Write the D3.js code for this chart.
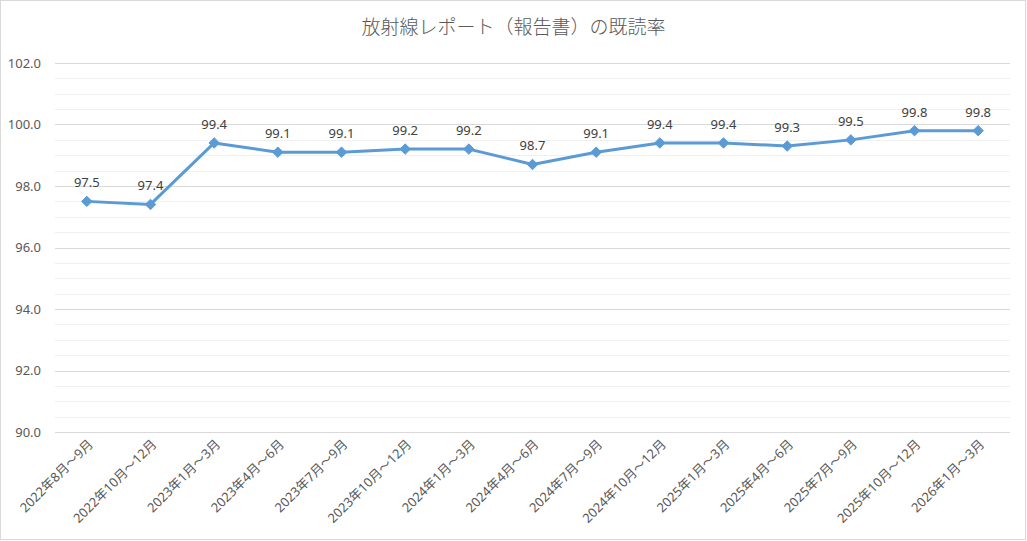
<!DOCTYPE html>
<html>
<head>
<meta charset="utf-8">
<script src="https://cdn.jsdelivr.net/npm/d3@7/dist/d3.min.js"></script>
<style>
body { margin: 0; background: #fff; }
svg { font-family: "Noto Sans", "Noto Sans CJK JP", sans-serif; }
</style>
</head>
<body>
<div id="chart"></div>
<script>
var categories = ["2022年8月～9月", "2022年10月～12月", "2023年1月～3月", "2023年4月～6月",
  "2023年7月～9月", "2023年10月～12月", "2024年1月～3月", "2024年4月～6月", "2024年7月～9月",
  "2024年10月～12月", "2025年1月～3月", "2025年4月～6月", "2025年7月～9月", "2025年10月～12月",
  "2026年1月～3月"];
var values = [97.5, 97.4, 99.4, 99.1, 99.1, 99.2, 99.2, 98.7, 99.1, 99.4, 99.4, 99.3, 99.5, 99.8, 99.8];
var majorTicks = [90, 92, 94, 96, 98, 100, 102];
var minorTicks = d3.range(90, 102.01, 0.5);
var title = "放射線レポート（報告書）の既読率";

var width = 1027, height = 541;
var margin = {left: 55, right: 17, top: 63, bottom: 109};

var svg = d3.select("#chart").append("svg")
  .attr("width", width)
  .attr("height", height);

// outer frame
svg.append("rect")
  .attr("x", 0.5).attr("y", 0.5)
  .attr("width", width - 2).attr("height", height - 2)
  .attr("fill", "#fff")
  .attr("stroke", "#d9d9d9");

var x = d3.scaleBand()
  .domain(categories)
  .range([margin.left, width - margin.right]);

var y = d3.scaleLinear()
  .domain([90, 102])
  .range([height - margin.bottom, margin.top]);

// minor gridlines
svg.append("g").selectAll("line")
  .data(minorTicks)
  .enter().append("line")
  .attr("x1", margin.left).attr("x2", width - margin.right)
  .attr("y1", function(d) { return Math.round(y(d)) + 0.5; })
  .attr("y2", function(d) { return Math.round(y(d)) + 0.5; })
  .attr("stroke", "#f0f0f0")
  .attr("stroke-width", 1);

// major gridlines
svg.append("g").selectAll("line")
  .data(majorTicks)
  .enter().append("line")
  .attr("x1", margin.left).attr("x2", width - margin.right)
  .attr("y1", function(d) { return Math.round(y(d)) + 0.5; })
  .attr("y2", function(d) { return Math.round(y(d)) + 0.5; })
  .attr("stroke", "#d9d9d9")
  .attr("stroke-width", 1);

// y axis labels
var yAxis = d3.axisLeft(y).tickValues(majorTicks).tickFormat(d3.format(".1f")).tickSize(0).tickPadding(14);
var gy = svg.append("g")
  .attr("transform", "translate(" + margin.left + ",0)")
  .call(yAxis);
gy.select(".domain").remove();
gy.selectAll("text")
  .attr("fill", "#595959")
  .style("font-family", "'Noto Sans', sans-serif")
  .style("font-size", "13px");

// x axis labels
var xAxis = d3.axisBottom(x).tickSize(0).tickPadding(0);
var gx = svg.append("g")
  .attr("transform", "translate(0," + (height - margin.bottom) + ")")
  .call(xAxis);
gx.select(".domain").remove();
gx.selectAll("text")
  .attr("fill", "#595959")
  .style("font-family", "'Noto Sans', 'Noto Sans CJK JP', sans-serif")
  .style("font-size", "13px")
  .style("text-anchor", "end")
  .attr("dy", "0")
  .attr("transform", "translate(7,13) rotate(-45)");

// line
var line = d3.line()
  .x(function(d, i) { return x(categories[i]) + x.bandwidth() / 2; })
  .y(function(d) { return y(d); });

svg.append("path")
  .datum(values)
  .attr("fill", "none")
  .attr("stroke", "#5b9bd5")
  .attr("stroke-width", 3)
  .attr("stroke-linejoin", "round")
  .attr("d", line);

// markers
svg.append("g").selectAll("path")
  .data(values)
  .enter().append("path")
  .attr("d", d3.symbol().type(d3.symbolDiamond2).size(70))
  .attr("transform", function(d, i) {
    return "translate(" + (x(categories[i]) + x.bandwidth() / 2) + "," + y(d) + ")";
  })
  .attr("fill", "#5b9bd5")
  .attr("stroke", "#5b9bd5");

// data labels
svg.append("g").selectAll("text")
  .data(values)
  .enter().append("text")
  .attr("x", function(d, i) { return x(categories[i]) + x.bandwidth() / 2; })
  .attr("y", function(d) { return y(d) - 14; })
  .attr("text-anchor", "middle")
  .attr("fill", "#404040")
  .style("font-family", "'Noto Sans', sans-serif")
  .style("font-size", "13px")
  .text(function(d) { return d3.format(".1f")(d); });

// title
svg.append("text")
  .attr("x", width / 2)
  .attr("y", 34)
  .attr("text-anchor", "middle")
  .attr("fill", "#595959")
  .style("font-family", "'Noto Sans CJK JP', sans-serif")
  .style("font-weight", "300")
  .style("font-size", "19px")
  .text(title);
</script>
</body>
</html>
